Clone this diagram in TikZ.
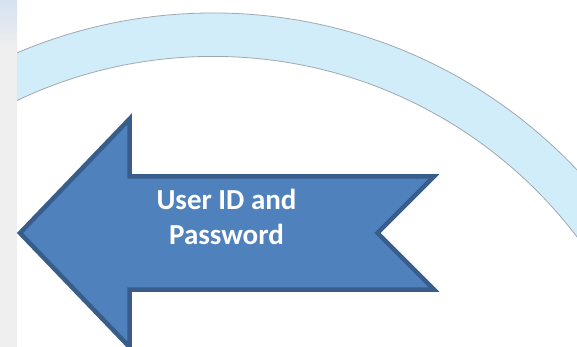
\documentclass[tikz,border=0pt]{standalone}
\usepackage{fontspec}
\setmainfont{Carlito}
\definecolor{bandfill}{RGB}{210,237,250}
\definecolor{bandedge}{RGB}{160,168,176}
\definecolor{arrowfill}{RGB}{79,129,189}
\definecolor{arrowedge}{RGB}{56,93,138}
\definecolor{stripgray}{RGB}{239,239,239}
\definecolor{stripblue}{RGB}{214,225,240}
\tikzset{
  band/.style={fill=bandfill, draw=bandedge, line width=0.8pt, even odd rule},
  bigarrow/.style={fill=arrowfill, draw=arrowedge, line width=4.5pt, line join=miter},
  label/.style={text=white, font=\bfseries\fontsize{29}{35}\selectfont, align=center}
}
\begin{document}
\begin{tikzpicture}[x=1pt, y=-1pt]
\useasboundingbox (0,0) rectangle (577,347);
\clip (0,0) rectangle (577,347);
\fill[white] (0,0) rectangle (577,347);
% arc band
\coordinate (c) at (213.1,513.4);
\path[band] (c) circle[radius=500.4pt] (c) circle[radius=457pt];
% left strip
\fill[stripgray] (0,0) rectangle (17,347);
\shade[top color=stripblue, bottom color=stripgray] (0,0) rectangle (17,50);
% arrow
\coordinate (tip) at (20,233);
\coordinate (ht) at (129.5,119);
\coordinate (st) at (129.5,176.5);
\coordinate (tt) at (434,176.5);
\coordinate (notch) at (377.5,233);
\coordinate (tb) at (434,289.5);
\coordinate (sb) at (129.5,289.5);
\coordinate (hb) at (129.5,347);
\draw[bigarrow] (tip) -- (ht) -- (st) -- (tt) -- (notch) -- (tb) -- (sb) -- (hb) -- cycle;
\node[label] (lbl) at (226.5,217) {User ID and\\Password};
\end{tikzpicture}
\end{document}
